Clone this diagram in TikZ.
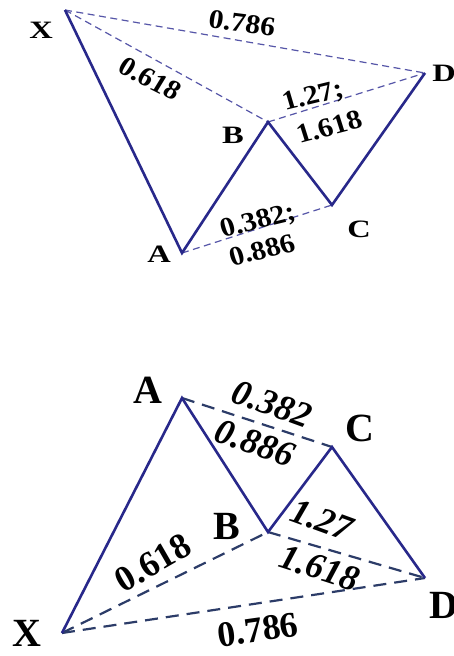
\documentclass[tikz,border=0pt]{standalone}
\usepackage{fontspec}
\setmainfont{Liberation Serif}
\definecolor{navy}{HTML}{28288A}
\definecolor{dashtop}{HTML}{5656A8}
\definecolor{dashbot}{HTML}{2C3C68}
\begin{document}
\begin{tikzpicture}[x=1pt,y=-1pt,
  solidleg/.style={draw=navy,line width=2.6pt,line join=miter},
  dashA/.style={draw=dashtop,line width=1.2pt,dash pattern=on 7pt off 4.5pt},
  dashB/.style={draw=dashbot,line width=2.2pt,dash pattern=on 13pt off 8pt},
  lbltop/.style={font=\fontsize{25}{28}\selectfont\bfseries,inner sep=0pt,xscale=1.3},
  numtop/.style={font=\fontsize{27}{30}\selectfont\bfseries,inner sep=0pt,xscale=1.1},
  lblbot/.style={font=\fontsize{40}{44}\selectfont\bfseries,inner sep=0pt},
  numbot/.style={font=\fontsize{36}{38}\selectfont\bfseries,inner sep=0pt},
  numboti/.style={font=\fontsize{36}{38}\selectfont\bfseries\itshape,inner sep=0pt}]
\useasboundingbox[fill=white] (0,0) rectangle (454,656);
% ---------- top pattern ----------
\coordinate (tX) at (65,10);
\coordinate (tA) at (182,253);
\coordinate (tB) at (268,122);
\coordinate (tC) at (332,205);
\coordinate (tD) at (425,73);
\draw[dashA] (tX) -- (tD);
\draw[dashA] (tX) -- (tB);
\draw[dashA] (tB) -- (tD);
\draw[dashA] (tA) -- (tC);
\draw[solidleg] (tX) -- (tA) -- (tB) -- (tC) -- (tD);
\node[lbltop] (tXl) at (41,30) {X};
\node[lbltop] (tAl) at (159,254) {A};
\node[lbltop] (tBl) at (233,135) {B};
\node[lbltop] (tCl) at (359,229) {C};
\node[lbltop,anchor=west] (tDl) at (432,73) {D};
\node[numtop,rotate=-8] (t786) at (242,23) {0.786};
\node[numtop,rotate=-29] (t618) at (150,79) {0.618};
\node[numtop,rotate=15] (t127) at (313,97) {1.27;};
\node[numtop,rotate=16] (t1618) at (329,127) {1.618};
\node[numtop,rotate=15] (t382) at (258,222) {0.382;};
\node[numtop,rotate=15] (t886) at (262,250) {0.886};
% ---------- bottom pattern ----------
\coordinate (bX) at (62,633);
\coordinate (bA) at (182,398);
\coordinate (bB) at (268,532);
\coordinate (bC) at (332,447);
\coordinate (bD) at (425,578);
\draw[dashB] (bA) -- (bC);
\draw[dashB] (bX) -- (bB);
\draw[dashB] (bB) -- (bD);
\draw[dashB] (bX) -- (bD);
\draw[solidleg] (bX) -- (bA) -- (bB) -- (bC) -- (bD);
\node[lblbot] (bAl) at (148,390) {A};
\node[lblbot] (bCl) at (360,428) {C};
\node[lblbot] (bBl) at (227,526) {B};
\node[lblbot,anchor=west] (bDl) at (429,605) {D};
\node[lblbot] (bXl) at (27,633) {X};
\node[numboti,rotate=-20] (b382) at (272,404) {0.382};
\node[numboti,rotate=-20] (b886) at (255,443) {0.886};
\node[numbot,rotate=30] (b618) at (153,563) {0.618};
\node[numboti,rotate=-20] (b127) at (322,520) {1.27};
\node[numboti,rotate=-18] (b1618) at (320,568) {1.618};
\node[numbot,rotate=8] (b786) at (258,630) {0.786};
\end{tikzpicture}
\end{document}
